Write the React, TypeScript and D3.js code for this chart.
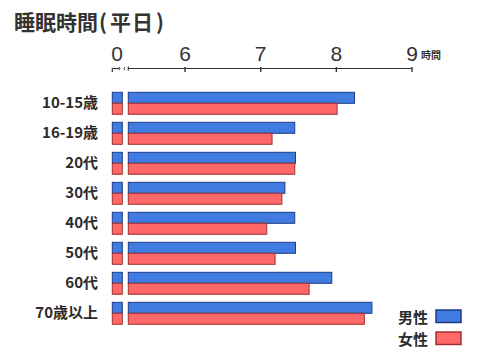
import React from "react";
import * as d3 from "d3";

const categories = ["10-15歳", "16-19歳", "20代", "30代", "40代", "50代", "60代", "70歳以上"];
const maleHours = [8.24, 7.45, 7.46, 7.32, 7.45, 7.46, 7.94, 8.47];
const femaleHours = [8.01, 7.15, 7.45, 7.28, 7.08, 7.19, 7.64, 8.37];
const tickValues = [6, 7, 8, 9];
const seriesNames = ["男性", "女性"];
const titleMain = "睡眠時間";
const titleSub = "平日";
const unit = "時間";

const BLUE = "#3f7be0";
const BLUE_S = "#1d3c86";
const RED = "#ff6868";
const RED_S = "#a3302f";
const TXT = "#2b2b2b";
const CJK = "'Noto Sans CJK JP', 'Noto Sans', sans-serif";

export default function App() {
  const x = d3.scaleLinear().domain([5.25, 9]).range([128.3, 412]);
  const y = d3.scaleBand().domain(categories).range([92, 332]).paddingInner(0).paddingOuter(0);
  const barH = 11;
  const axisY = 68.5;
  const stubX0 = 112.3;
  const stubX1 = 122.3;

  return (
    <svg width={480} height={360} style={{ position: "absolute", left: 0, top: 0, background: "#fff" }}>
      <text x={14} y={29.5} fontFamily={CJK} fontSize={21} fontWeight={700} fill="#333">
        <tspan>{titleMain}</tspan>
        <tspan dx={1}>(</tspan>
        <tspan dx={3} letterSpacing={1}>{titleSub}</tspan>
        <tspan dx={2}>)</tspan>
      </text>

      {/* zero stub with break */}
      <text x={117} y={60.5} textAnchor="middle" fontFamily="'Liberation Sans', Arial, sans-serif" fontSize={21} fill="#333">0</text>
      <line x1={stubX0} x2={119} y1={axisY} y2={axisY} stroke="#333" strokeWidth={1.2} />
      <line x1={stubX0} x2={stubX0} y1={axisY} y2={72} stroke="#333" strokeWidth={1.2} />
      <path d={`M119,${axisY - 1.5} q2,1.5 0,3`} fill="none" stroke="#333" strokeWidth={1} />
      <path d={`M125,${axisY - 1.5} q-2,1.5 0,3`} fill="none" stroke="#333" strokeWidth={1} />

      {/* main axis */}
      <line x1={x(5.25)} x2={x(9)} y1={axisY} y2={axisY} stroke="#333" strokeWidth={1.2} />
      <line x1={x(5.25)} x2={x(5.25)} y1={axisY - 2} y2={axisY + 2} stroke="#333" strokeWidth={1.2} />
      {tickValues.map((t) => (
        <g key={t}>
          <line x1={x(t)} x2={x(t)} y1={axisY - 1.5} y2={axisY + 3.5} stroke="#333" strokeWidth={1.4} />
          <text x={x(t)} y={60.5} textAnchor="middle" fontFamily="'Liberation Sans', Arial, sans-serif" fontSize={21} fill="#333">{t}</text>
        </g>
      ))}
      <text x={421} y={59} fontFamily={CJK} fontSize={10} fontWeight={700} fill="#333">{unit}</text>

      {categories.map((c, i) => {
        const top = y(c)! + 0.3;
        return (
          <g key={c}>
            <text x={98} y={top + barH + 5} textAnchor="end" fontFamily={CJK} fontSize={15} fontWeight={700} fill={TXT}>{c}</text>
            <rect x={stubX0} y={top} width={stubX1 - stubX0} height={barH} fill={BLUE} stroke={BLUE_S} strokeWidth={1} />
            <rect x={stubX0} y={top + barH} width={stubX1 - stubX0} height={barH} fill={RED} stroke={RED_S} strokeWidth={1} />
            <rect x={x(5.25)} y={top} width={x(maleHours[i]) - x(5.25)} height={barH} fill={BLUE} stroke={BLUE_S} strokeWidth={1} />
            <rect x={x(5.25)} y={top + barH} width={x(femaleHours[i]) - x(5.25)} height={barH} fill={RED} stroke={RED_S} strokeWidth={1} />
          </g>
        );
      })}

      {/* legend */}
      <text x={398} y={322.5} fontFamily={CJK} fontSize={15} fontWeight={700} fill={TXT}>{seriesNames[0]}</text>
      <rect x={436} y={310} width={25} height={12.5} fill={BLUE} stroke={BLUE_S} strokeWidth={1.5} />
      <text x={398} y={344.5} fontFamily={CJK} fontSize={15} fontWeight={700} fill={TXT}>{seriesNames[1]}</text>
      <rect x={436} y={332} width={25} height={12.5} fill={RED} stroke={RED_S} strokeWidth={1.5} />
    </svg>
  );
}
